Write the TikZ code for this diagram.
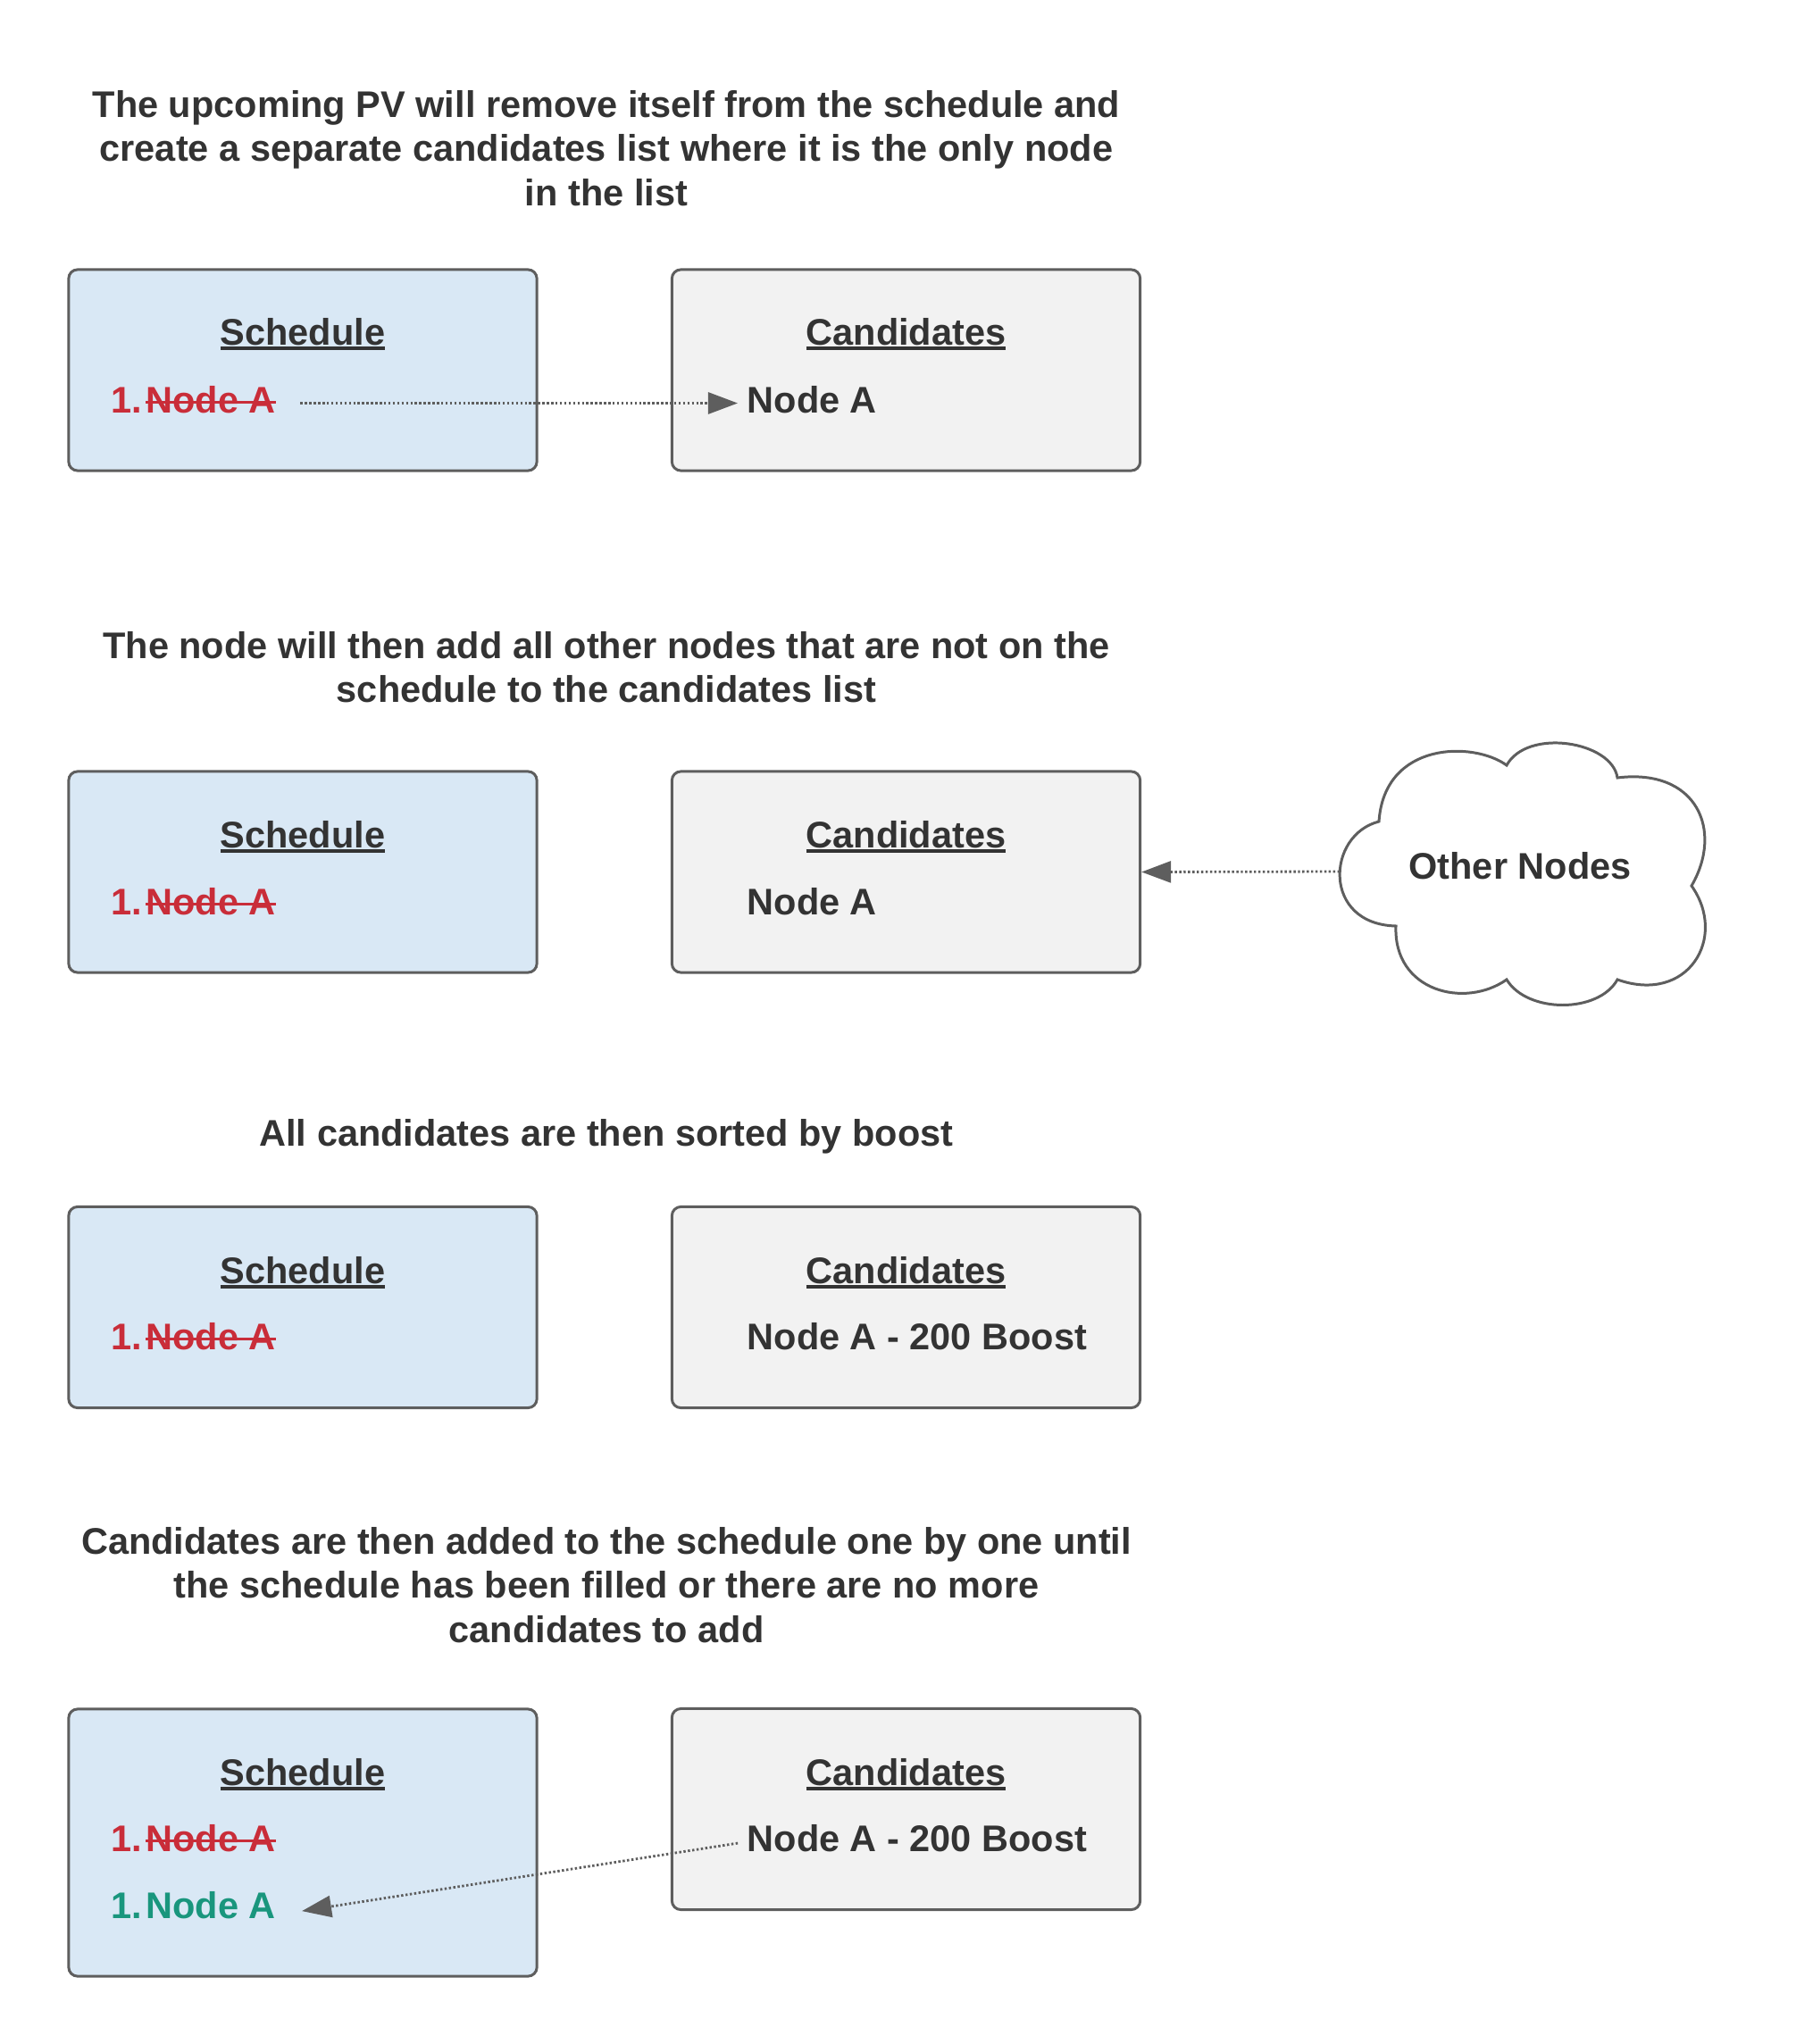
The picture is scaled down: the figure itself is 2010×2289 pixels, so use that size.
\documentclass[tikz,border=0pt]{standalone}
\usepackage{fontspec}
\setmainfont{Liberation Sans}
\usetikzlibrary{arrows.meta, calc}

\definecolor{txtgray}{HTML}{333333}
\definecolor{linegray}{HTML}{5E5E5E}
\definecolor{schedblue}{HTML}{D9E8F5}
\definecolor{candgray}{HTML}{F2F2F2}
\definecolor{removedred}{HTML}{C92D39}
\definecolor{addedgreen}{HTML}{19967D}

\newcommand{\diagfont}{\fontsize{11.8}{14.1}\selectfont\bfseries}
\newcommand{\ulhead}[1]{\setbox0=\hbox{#1}\rlap{\rule[-0.13em]{\wd0}{0.08em}}\box0}
\newcommand{\struckout}[1]{\setbox0=\hbox{#1}\rlap{\rule[0.25em]{\wd0}{0.09em}}\box0}

\tikzset{
  listbox/.style={draw=linegray, line width=0.85pt, rounded corners=0.1cm, minimum width=5.24cm, minimum height=2.25cm},
  schedbox/.style={listbox, fill=schedblue},
  candbox/.style={listbox, fill=candgray},
  heading/.style={text=txtgray, font=\diagfont, inner sep=0pt},
  caption/.style={text=txtgray, font=\diagfont, align=center, inner sep=0pt},
  item/.style={text=txtgray, font=\diagfont, inner sep=0pt, anchor=west},
  flow/.style={draw=linegray, line width=0.8pt, dash pattern=on 0.7pt off 0.7pt, -{Triangle[length=0.33cm, width=0.24cm]}}
}

\begin{document}
\begin{tikzpicture}[x=0.01cm, y=-0.01cm]
  \useasboundingbox (0,0) rectangle (2010,2289);

  % step 1: PV leaves the schedule
  \node[caption] (cap1) at (679,166) {The upcoming PV will remove itself from the schedule and\\create a separate candidates list where it is the only node\\in the list};
  \node[schedbox] (sched1) at (339,414.5) {};
  \node[candbox] (cand1) at (1014.5,414.5) {};
  \node[heading] (shead1) at (339,374) {\ulhead{Schedule}};
  \node[heading] (chead1) at (1014.5,374) {\ulhead{Candidates}};
  \node[item, text=removedred] (sitem1) at (124,448) {1.\hspace{0.1em}\struckout{Node A}};
  \node[item] (citem1) at (836,448) {Node A};
  \draw[flow, shorten <=0.27cm, shorten >=0.1cm] ([yshift=-1pt]sitem1.east) -- ([yshift=-1pt]citem1.west);

  % step 2: other nodes join the candidates
  \node[caption] (cap2) at (679,747) {The node will then add all other nodes that are not on the\\schedule to the candidates list};
  \node[schedbox] (sched2) at (339,976.5) {};
  \node[candbox] (cand2) at (1014.5,976.5) {};
  \node[heading] (shead2) at (339,937) {\ulhead{Schedule}};
  \node[heading] (chead2) at (1014.5,937) {\ulhead{Candidates}};
  \node[item, text=removedred] (sitem2) at (124,1010) {1.\hspace{0.1em}\struckout{Node A}};
  \node[item] (citem2) at (836,1010) {Node A};
  \draw[draw=linegray, line width=0.85pt] (1544,920)
    .. controls (1485,935) and (1480,1035) .. (1563,1037)
    .. controls (1560,1110) and (1640,1130) .. (1687,1097)
    .. controls (1710,1135) and (1790,1135) .. (1811,1097)
    .. controls (1890,1125) and (1935,1050) .. (1894,992)
    .. controls (1930,930) and (1900,860) .. (1811,871)
    .. controls (1805,830) and (1710,815) .. (1687,857)
    .. controls (1650,830) and (1550,830) .. (1544,920) -- cycle;
  \node[heading] (others) at (1702,970) {Other Nodes};
  \coordinate (cloudW) at (1500,976);
  \draw[flow] (cloudW) -- (cand2.east);

  % step 3: sort by boost
  \node[caption] (cap3) at (679,1273) {All candidates are then sorted by boost};
  \node[schedbox] (sched3) at (339,1464) {};
  \node[candbox] (cand3) at (1014.5,1464) {};
  \node[heading] (shead3) at (339,1425) {\ulhead{Schedule}};
  \node[heading] (chead3) at (1014.5,1425) {\ulhead{Candidates}};
  \node[item, text=removedred] (sitem3) at (124,1497) {1.\hspace{0.1em}\struckout{Node A}};
  \node[item] (citem3) at (836,1497) {Node A - 200 Boost};

  % step 4: fill the schedule
  \node[caption] (cap4) at (679,1775) {Candidates are then added to the schedule one by one until\\the schedule has been filled or there are no more\\candidates to add};
  \node[schedbox, minimum height=2.99cm] (sched4) at (339,2063.5) {};
  \node[candbox] (cand4) at (1014.5,2026) {};
  \node[heading] (shead4) at (339,1987) {\ulhead{Schedule}};
  \node[heading] (chead4) at (1014.5,1987) {\ulhead{Candidates}};
  \node[item, text=removedred] (sitem4) at (124,2059) {1.\hspace{0.1em}\struckout{Node A}};
  \node[item, text=addedgreen] (snew4) at (124,2134) {1.\hspace{0.1em}Node A};
  \node[item] (citem4) at (836,2059) {Node A - 200 Boost};
  \draw[flow, shorten <=0.1cm, shorten >=0.29cm] ([yshift=-1pt]citem4.west) -- ([yshift=-3pt]snew4.east);
\end{tikzpicture}
\end{document}
